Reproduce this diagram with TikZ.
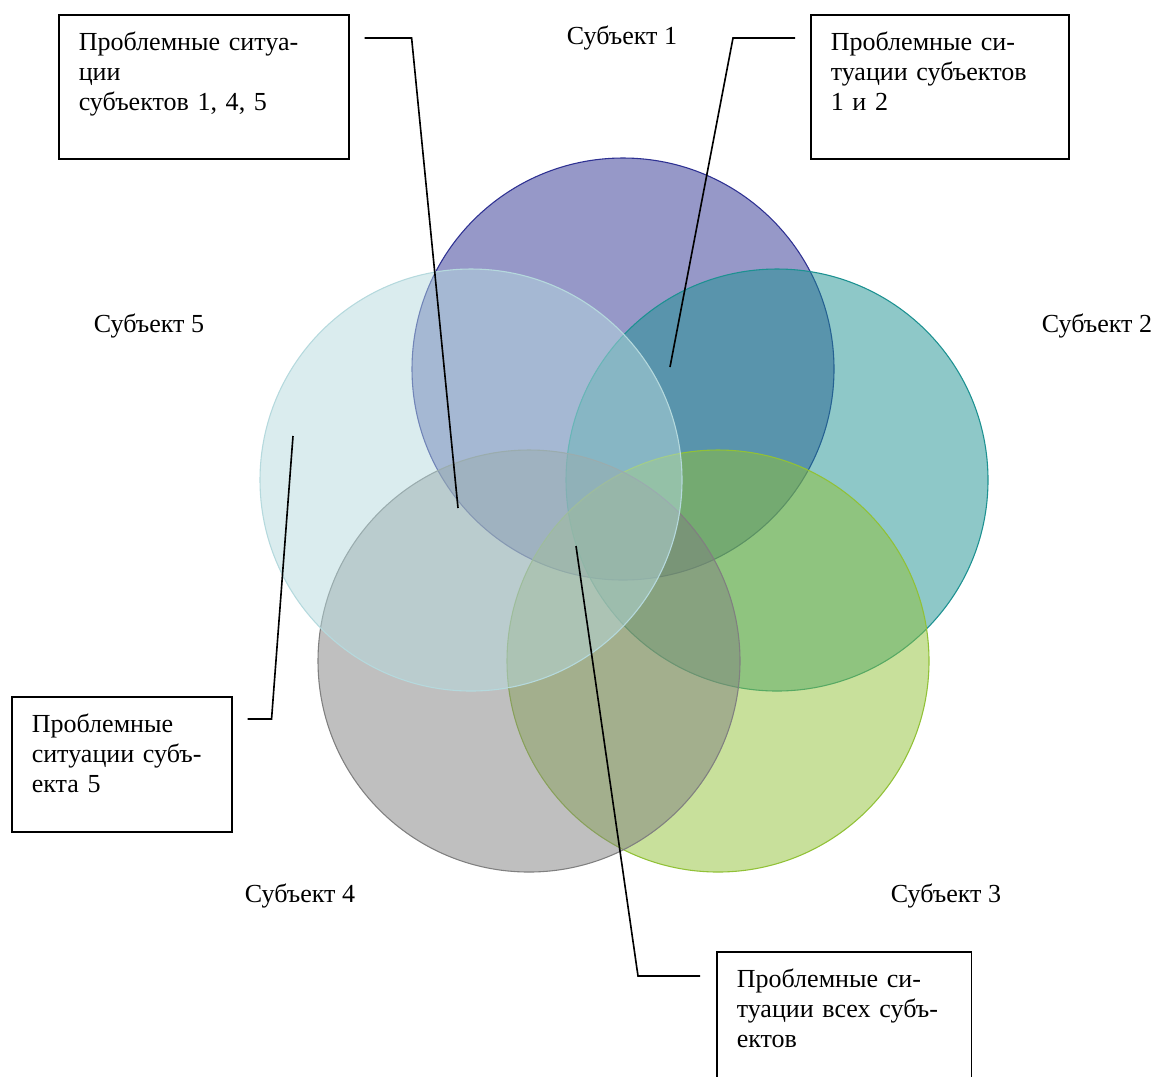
\documentclass[tikz,border=0pt]{standalone}
\usepackage{fontspec}
\setmainfont{Liberation Serif}
\usetikzlibrary{calc}
\definecolor{subjA}{RGB}{46,49,146}
\definecolor{subjB}{RGB}{29,145,145}
\definecolor{subjC}{RGB}{145,193,55}
\definecolor{subjD}{RGB}{128,128,128}
\definecolor{subjE}{RGB}{181,217,221}
\def\subjcircle[#1](#2){\draw[line width=0.5pt, draw=#1, fill=#1, fill opacity=0.5] (#2) circle (211);}
\tikzset{
	callout/.style={draw, line width=0.75pt, anchor=north west, align=left, inner xsep=9.2pt, inner ysep=8pt, text height=8.6pt},
	leader/.style={line width=0.75pt},
}
\frenchspacing

\begin{document}
\begin{tikzpicture}[x=0.0162cm, y=-0.0162cm, font=\fontsize{12pt}{13.8pt}\selectfont]
			%%%%% START %%%%%
			\useasboundingbox (0,0) rectangle (1157,1076);
			\clip (0,0) rectangle (1157,1076);
			
			\subjcircle[subjA](623, 369)
			\subjcircle[subjB](777, 480)
			\subjcircle[subjC](718, 661)
			\subjcircle[subjD](529, 661)
			\subjcircle[subjE](471, 480)
			
			\node[anchor=base] (s1) at (622, 44) {Субъект 1};
			\node[anchor=base] (s2) at (1097, 332) {Субъект 2};
			\node[anchor=base] (s3) at (946, 902) {Субъект 3};
			\node[anchor=base] (s4) at (300, 902) {Субъект 4};
			\node[anchor=base] (s5) at (149, 332) {Субъект 5};
			
			\node[callout, text width=115.3pt, text depth=41.8pt] (b145) at (58, 14) {Проблемные ситуа-\\ции\\субъектов 1, 4, 5};
			\node[callout, text width=100.5pt, text depth=41.8pt] (b12) at (810, 14) {Проблемные си-\\туации субъектов\\1 и 2};
			\node[callout, text width=83pt, text depth=37.6pt] (b5) at (11, 696) {Проблемные\\ситуации субъ-\\екта 5};
			\node[callout, text width=99.1pt, text depth=37.6pt] (ball) at (716, 951) {Проблемные си-\\туации всех субъ-\\ектов};
			
			\coordinate (t145) at (458, 508);
			\coordinate (t12) at (670, 367);
			\coordinate (t5) at (293, 436);
			\coordinate (tall) at (576, 546);
			
			\draw[leader] ($(b145.north east)+(15,24)$) -- ++(47,0) -- (t145);
			\draw[leader] ($(b12.north west)+(-15,24)$) -- ++(-62,0) -- (t12);
			\draw[leader] ($(b5.north east)+(15,23)$) -- ++(24,0) -- (t5);
			\draw[leader] ($(ball.north west)+(-16,25)$) -- ++(-62,0) -- (tall);
			
			%%%%% END %%%%%
\end{tikzpicture}
\end{document}
